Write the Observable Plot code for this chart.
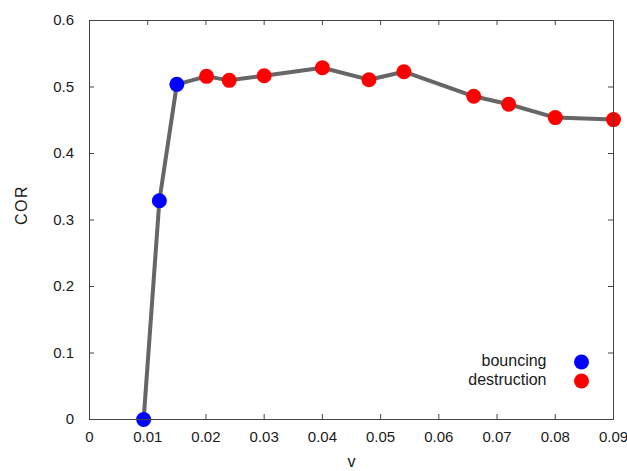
<!DOCTYPE html>
<html>
<head>
<meta charset="utf-8">
<script src="https://cdn.jsdelivr.net/npm/d3@7"></script>
<script src="https://cdn.jsdelivr.net/npm/@observablehq/plot@0.6"></script>
<style>
  html, body { margin: 0; padding: 0; background: #fff; }
</style>
</head>
<body>
<div id="chart"></div>
<script>
// ---- data ----
const bouncingV   = [0.0093, 0.012, 0.015];
const bouncingCOR = [0.0, 0.329, 0.504];
const destructionV   = [0.0201, 0.024, 0.030, 0.040, 0.048, 0.054, 0.066, 0.072, 0.080, 0.090];
const destructionCOR = [0.516, 0.510, 0.517, 0.529, 0.511, 0.523, 0.486, 0.474, 0.454, 0.451];
const xTicks = [0, 0.01, 0.02, 0.03, 0.04, 0.05, 0.06, 0.07, 0.08, 0.09];
const xTickLabels = ["0", "0.01", "0.02", "0.03", "0.04", "0.05", "0.06", "0.07", "0.08", "0.09"];
const yTicks = [0, 0.1, 0.2, 0.3, 0.4, 0.5, 0.6];
const yTickLabels = ["0", "0.1", "0.2", "0.3", "0.4", "0.5", "0.6"];
const seriesNames = ["bouncing", "destruction"];
const seriesColors = ["#0000ff", "#ff0000"];
const xLabel = "v";
const yLabel = "COR";

// ---- derived tables ----
const bouncing = bouncingV.map((v, i) => ({v, cor: bouncingCOR[i], s: seriesNames[0]}));
const destruction = destructionV.map((v, i) => ({v, cor: destructionCOR[i], s: seriesNames[1]}));
const all = bouncing.concat(destruction);

const W = 627, H = 471;
const mL = 89, mR = 14, mT = 20, mB = 52;
const frameW = W - mL - mR, frameH = H - mT - mB;
const tick = 5;
const axisColor = "#444";
const textColor = "#1a1a1a";

const chart = Plot.plot({
  width: W,
  height: H,
  marginLeft: mL, marginRight: mR, marginTop: mT, marginBottom: mB,
  x: {domain: [0, 0.09]},
  y: {domain: [0, 0.6]},
  color: {domain: seriesNames, range: seriesColors},
  style: {fontFamily: "'Liberation Sans', Arial, sans-serif", fontSize: "15px", color: textColor, background: "#fff"},
  marks: [
    // inward ticks on all four sides
    Plot.tickX(xTicks, {x: d => d, insetTop: frameH - tick, stroke: axisColor}),
    Plot.tickX(xTicks, {x: d => d, insetBottom: frameH - tick, stroke: axisColor}),
    Plot.tickY(yTicks, {y: d => d, insetRight: frameW - tick, stroke: axisColor}),
    Plot.tickY(yTicks, {y: d => d, insetLeft: frameW - tick, stroke: axisColor}),
    Plot.axisX(xTicks, {tickSize: 0, tickPadding: 12, tickFormat: d => xTickLabels[xTicks.indexOf(d)], label: null}),
    Plot.axisY(yTicks, {tickSize: 0, tickPadding: 15.5, tickFormat: d => yTickLabels[yTicks.indexOf(d)], label: null}),
    Plot.text([xLabel], {text: d => d, frameAnchor: "bottom", dy: 47, fontSize: 16, fill: textColor}),
    Plot.text([yLabel], {text: d => d, frameAnchor: "left", dx: -68, dy: 5, rotate: -90, fontSize: 16, fill: textColor}),
    // data
    Plot.line(all, {x: "v", y: "cor", stroke: "#666666", strokeWidth: 4}),
    Plot.dot(all, {x: "v", y: "cor", fill: "s", r: 7.5, stroke: null}),
    Plot.frame({stroke: axisColor}),
    // legend
    Plot.text([seriesNames[0]], {text: d => d, frameAnchor: "bottom-right", dx: -67, dy: -54, textAnchor: "end", fontSize: 16, fill: textColor}),
    Plot.text([seriesNames[1]], {text: d => d, frameAnchor: "bottom-right", dx: -67, dy: -35, textAnchor: "end", fontSize: 16, fill: textColor}),
    Plot.dot([seriesNames[0]], {fill: d => d, frameAnchor: "bottom-right", dx: -32, dy: -57.5, r: 7.5}),
    Plot.dot([seriesNames[1]], {fill: d => d, frameAnchor: "bottom-right", dx: -32, dy: -38.5, r: 7.5})
  ]
});
// slightly wider tracking on the y-axis title, as in the reference
d3.select(chart).selectAll("text").filter(function() { return this.textContent === yLabel; })
  .style("letter-spacing", "1.5px");
document.getElementById("chart").appendChild(chart);
</script>
</body>
</html>
